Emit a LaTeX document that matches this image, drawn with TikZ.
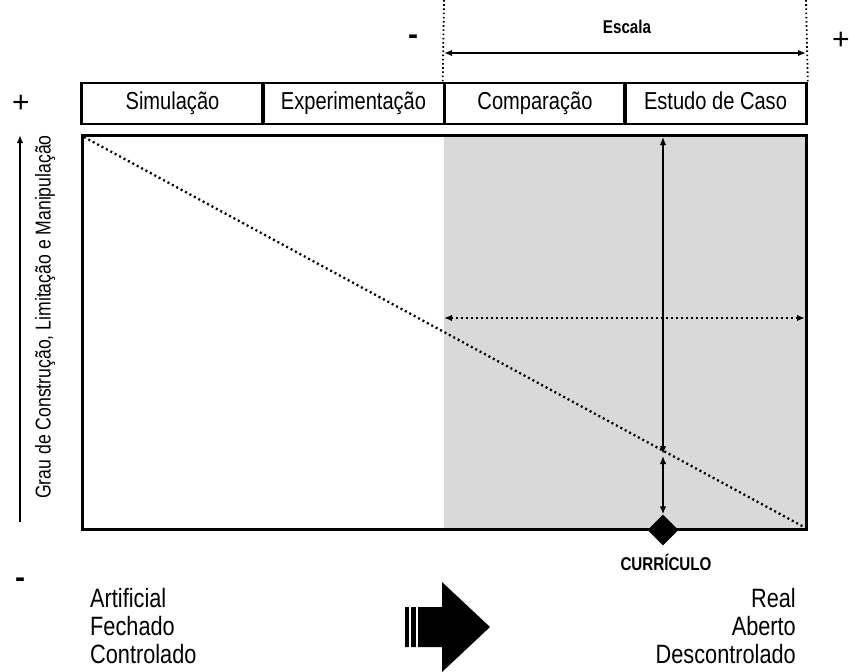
\documentclass[tikz,border=0pt]{standalone}
\usepackage{fontspec}
\setmainfont{Liberation Sans}[FakeStretch=0.82]
\newfontfamily\signfont{Liberation Sans}
\usetikzlibrary{arrows.meta,shapes.geometric}
\definecolor{bggray}{HTML}{D9D9D9}
\tikzset{
  cell/.style={draw, line width=2.6pt, minimum width=182pt, minimum height=41pt, inner sep=0pt, text height=17.5pt, text depth=5pt, font=\fontsize{24.5}{28}\selectfont},
  dotline/.style={line width=2.3pt, dash pattern=on 2pt off 3pt},
  tip/.style={-{Latex[length=8pt,width=6.5pt]}},
  dtip/.style={{Latex[length=8pt,width=6.5pt]}-{Latex[length=8pt,width=6.5pt]}},
  bottxt/.style={font=\fontsize{26.5}{28}\selectfont, inner sep=0pt},
  plussign/.style={font=\signfont\fontsize{30}{32}\selectfont, inner sep=0pt},
  minussign/.style={font=\signfont\bfseries\fontsize{30}{32}\selectfont, inner sep=0pt},
  smallbold/.style={font=\bfseries\fontsize{18.5}{20}\selectfont, inner sep=0pt},
}
\begin{document}
\begin{tikzpicture}[x=1pt,y=-1pt]
\useasboundingbox (0,0) rectangle (849,672);
% main area
\fill[bggray] (444,135) rectangle (806,529);
\coordinate (tl) at (82,135);
\coordinate (br) at (806,529);
\draw[line width=3pt] (tl) rectangle (br);
% header cells
\node[cell] (sim) at (172.5,103.5) {Simulação};
\node[cell] (exp) at (353.5,103.5) {Experimentação};
\node[cell] (com) at (535,103.5) {Comparação};
\node[cell] (est) at (715.5,103.5) {Estudo de Caso};
% scale
\coordinate (s1top) at (444,0);
\coordinate (s2top) at (806,0);
\draw[line width=1.8pt, dash pattern=on 1.6pt off 2.6pt] (s1top) -- (com.north west);
\draw[line width=1.8pt, dash pattern=on 1.6pt off 2.6pt] (s2top) -- (est.north east);
\coordinate (e1) at (444,53);
\coordinate (e2) at (806,53);
\draw[dtip, line width=2.2pt] (e1) -- (e2);
\node[smallbold] (escala) at (627,27) {Escala};
\node[minussign] (minus1) at (413,40) {-};
\node[plussign] (plus1) at (841,41) {+};
% left axis
\node[plussign] (plus2) at (21,104) {+};
\node[minussign] (minus2) at (20,583) {-};
\coordinate (a1) at (20,522);
\coordinate (a2) at (20,135);
\draw[tip, line width=2pt] (a1) -- (a2);
\node[rotate=90, font=\fontsize{21.5}{24}\selectfont, inner sep=0pt] (ylab) at (45,317) {Grau de Construção, Limitação e Manipulação};
% diagonal
\coordinate (d1) at (84,137);
\coordinate (d2) at (804,527);
\draw[dotline] (d1) -- (d2);
% horizontal dotted arrow
\coordinate (h1) at (444,318);
\coordinate (h2) at (805,318);
\draw[dtip, dotline] (h1) -- (h2);
% curriculum
\node[diamond, fill=black, minimum width=31pt, minimum height=31pt, inner sep=0pt] (dia) at (663,530) {};
\coordinate (v1) at (663,137);
\coordinate (v2) at (663,454);
\coordinate (v3) at (663,456);
\draw[dtip, line width=1.4pt] (v1) -- (v2);
\draw[dtip, line width=1.4pt] (v3) -- (dia.north);
\node[smallbold] (curr) at (666,562) {CURRÍCULO};
% bottom texts
\node[bottxt, anchor=base west] (art) at (90,607) {Artificial};
\node[bottxt, anchor=base west] (fec) at (90,635) {Fechado};
\node[bottxt, anchor=base west] (con) at (90,663) {Controlado};
\node[bottxt, anchor=base east] (rea) at (796,607) {Real};
\node[bottxt, anchor=base east] (abe) at (796,635) {Aberto};
\node[bottxt, anchor=base east] (des) at (796,663) {Descontrolado};
% big arrow
\fill[black] (405,607) -- (442,607) -- (442,582) -- (490,627) -- (442,672) -- (442,647) -- (405,647) -- cycle;
\draw[white, line width=1.2pt] (410,606) -- (410,648);
\draw[white, line width=1.2pt] (417,606) -- (417,648);
\end{tikzpicture}
\end{document}
